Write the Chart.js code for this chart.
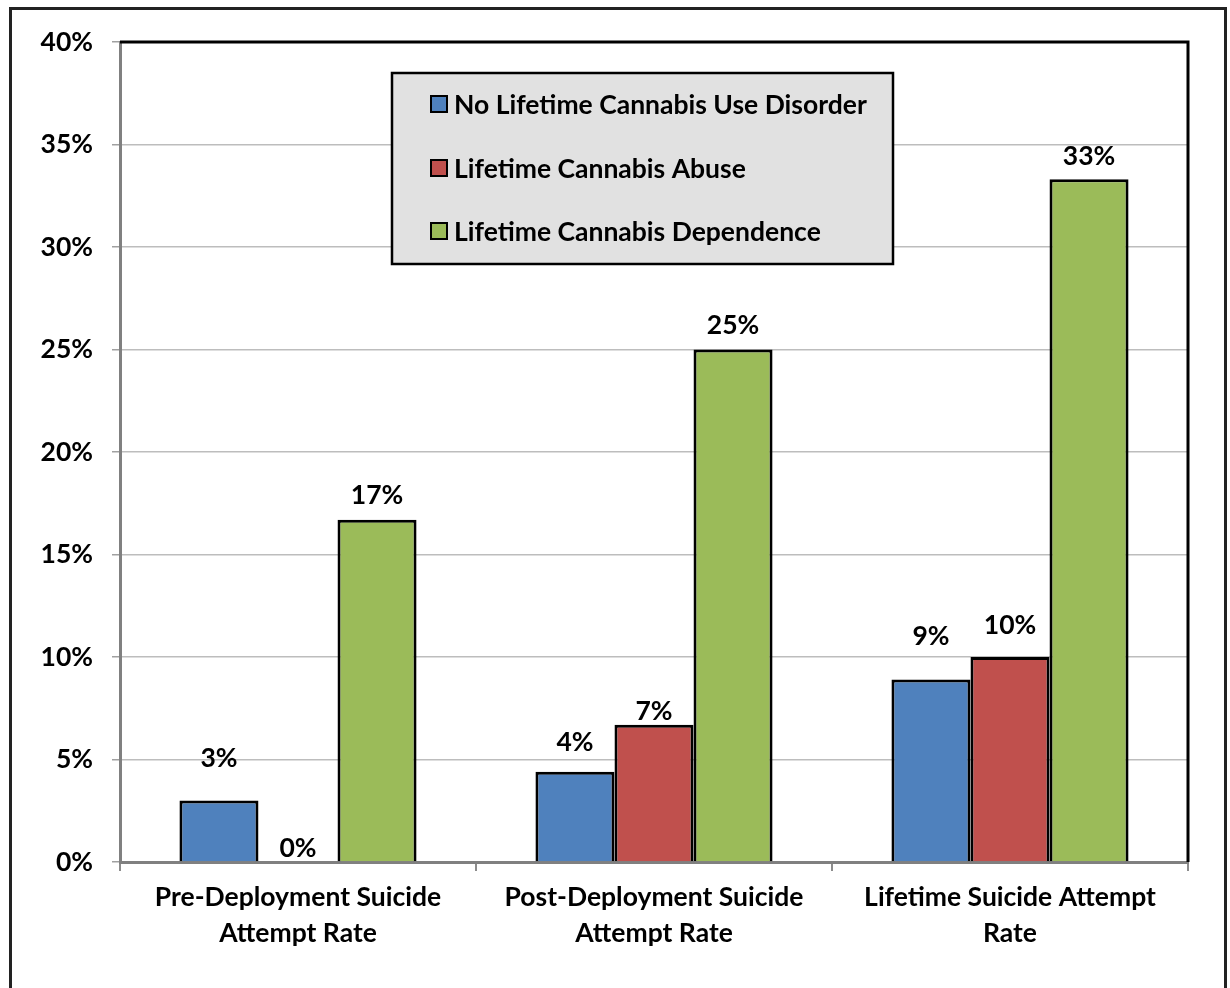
<!DOCTYPE html>
<html>
<head>
<meta charset="utf-8">
<script src="https://cdn.jsdelivr.net/npm/chart.js@4.4.1/dist/chart.umd.min.js"></script>
<style>
  html, body { margin: 0; padding: 0; background: #fff; }
  #wrap { width: 1230px; height: 988px; }
</style>
</head>
<body>
<div id="wrap"><canvas id="chart" width="1230" height="988"></canvas></div>
<script>
// --- Data ---
const categories = [
    ['Pre-Deployment Suicide', 'Attempt Rate'],
    ['Post-Deployment Suicide', 'Attempt Rate'],
    ['Lifetime Suicide Attempt', 'Rate']
];
const seriesNames = ['No Lifetime Cannabis Use Disorder', 'Lifetime Cannabis Abuse', 'Lifetime Cannabis Dependence'];
const noDisorder = [3.0, 4.4, 8.9];
const abuse = [0, 6.7, 10.0];
const dependence = [16.7, 25.0, 33.3];
const yMin = 0, yMax = 40, yStep = 5;

// --- Styling ---
const seriesColors = ['#4F81BD', '#C0504D', '#9BBB59'];
const FONT = 'Lato, "Open Sans", sans-serif';
const fontBold = { family: FONT, size: 26.5, weight: 'bold' };
// how far (px) each value label sits above its bar top, per series
const labelLift = [[42, 29, 43], [14, 13, 32], [24, 24, 23]];

// --- Custom drawing: frame, plot border, value labels, legend box ---
const decorations = {
    id: 'decorations',
    beforeDraw(chart) {
        const ctx = chart.ctx;
        ctx.save();
        ctx.fillStyle = '#fff';
        ctx.fillRect(0, 0, chart.width, chart.height);
        ctx.strokeStyle = '#222';
        ctx.lineWidth = 3;
        ctx.strokeRect(10.5, 8.5, 1215, 1000);
        ctx.restore();
    },
    afterDatasetsDraw(chart) {
        const ctx = chart.ctx;
        const area = chart.chartArea;
        ctx.save();

        // top and right edges of the plot area
        ctx.strokeStyle = '#000';
        ctx.lineWidth = 3;
        ctx.beginPath();
        ctx.moveTo(area.left, area.top);
        ctx.lineTo(area.right, area.top);
        ctx.lineTo(area.right, area.bottom);
        ctx.stroke();

        // value labels
        ctx.fillStyle = '#000';
        ctx.font = `bold ${fontBold.size}px ${FONT}`;
        ctx.textAlign = 'center';
        ctx.textBaseline = 'middle';
        chart.data.datasets.forEach((ds, di) => {
            chart.getDatasetMeta(di).data.forEach((bar, i) => {
                ctx.fillText(Math.round(ds.data[i]) + '%', bar.x, bar.y - labelLift[di][i]);
            });
        });

        // legend box
        const box = { x: 392, y: 73, w: 501, h: 191 };
        ctx.fillStyle = '#E1E1E1';
        ctx.fillRect(box.x, box.y, box.w, box.h);
        ctx.strokeStyle = '#000';
        ctx.lineWidth = 2.5;
        ctx.strokeRect(box.x, box.y, box.w, box.h);
        const rowY = [104, 168, 231];
        ctx.textAlign = 'left';
        chart.data.datasets.forEach((ds, di) => {
            const y = rowY[di];
            ctx.fillStyle = ds.backgroundColor;
            ctx.fillRect(431, y - 8, 16, 16);
            ctx.lineWidth = 2;
            ctx.strokeStyle = '#000';
            ctx.strokeRect(431, y - 8, 16, 16);
            ctx.fillStyle = '#000';
            ctx.fillText(ds.label, 454, y + 1);
        });
        ctx.restore();
    }
};

const datasets = [noDisorder, abuse, dependence].map((values, i) => ({
    label: seriesNames[i],
    data: values,
    backgroundColor: seriesColors[i],
    borderColor: '#000',
    borderWidth: 3,
    categoryPercentage: 0.666,
    barPercentage: 1.0
}));

new Chart(document.getElementById('chart'), {
    type: 'bar',
    data: { labels: categories, datasets },
    options: {
        responsive: false,
        animation: false,
        layout: { padding: { top: 42, right: 42, left: 0, bottom: 0 } },
        plugins: { legend: { display: false }, tooltip: { enabled: false } },
        scales: {
            x: {
                offset: true,
                grid: { offset: true, drawOnChartArea: false, drawTicks: true, tickLength: 9, color: '#8C8C8C', lineWidth: 2 },
                border: { display: true, color: '#808080', width: 3 },
                ticks: { font: { ...fontBold, lineHeight: 1.37 }, color: '#000', padding: 8, maxRotation: 0, autoSkip: false },
                afterFit: s => { s.height = 126; }
            },
            y: {
                min: yMin,
                max: yMax,
                ticks: { stepSize: yStep, callback: v => v + '%', font: fontBold, color: '#000', padding: 19 },
                grid: { color: '#BDBDBD', lineWidth: 1.5, tickLength: 8, tickColor: '#A0A0A0' },
                border: { display: true, color: '#808080', width: 3 },
                afterFit: s => { s.width = 120; }
            }
        }
    },
    plugins: [decorations]
});
</script>
</body>
</html>
